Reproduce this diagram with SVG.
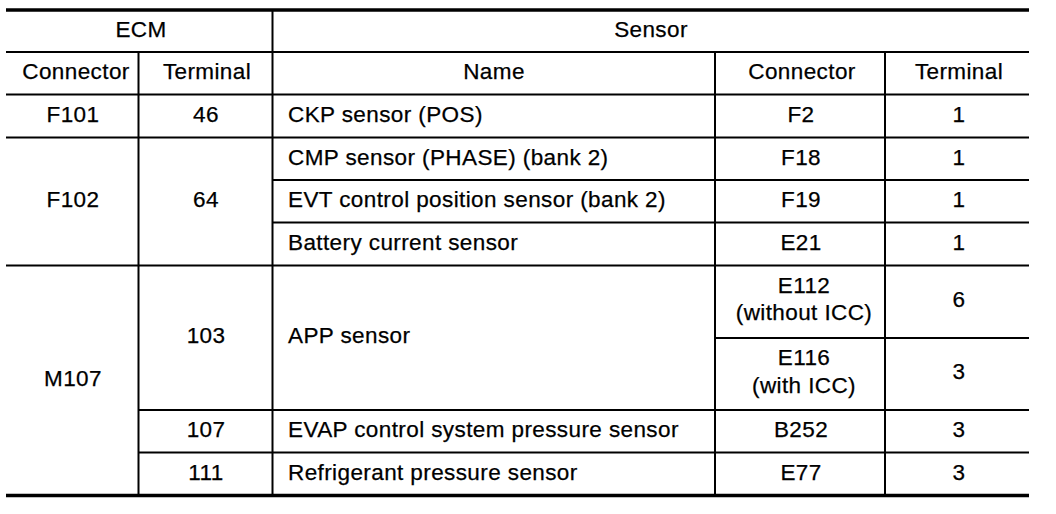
<svg xmlns="http://www.w3.org/2000/svg" width="1056" height="514" viewBox="0 0 1056 514">
<style>
text{font-family:"Liberation Sans",Arial,sans-serif;font-size:22.5px;letter-spacing:0.4px;fill:#000;stroke:#000;stroke-width:0.25}
.c{text-anchor:middle}
.l{stroke:#000;stroke-width:2;fill:none}
.t{stroke:#000;stroke-width:3.5;fill:none}
</style>
<rect width="1056" height="514" fill="#fff"/>
<g id="grid">
<line class="t" x1="6" y1="10" x2="1029" y2="10"/>
<line class="t" x1="6" y1="495.5" x2="1029" y2="495.5"/>
<line class="l" x1="6" y1="52" x2="1029" y2="52"/>
<line class="l" x1="6" y1="94.5" x2="1029" y2="94.5"/>
<line class="l" x1="6" y1="137.5" x2="1029" y2="137.5"/>
<line class="l" x1="272.5" y1="180" x2="1029" y2="180"/>
<line class="l" x1="272.5" y1="222.5" x2="1029" y2="222.5"/>
<line class="l" x1="6" y1="265.5" x2="1029" y2="265.5"/>
<line class="l" x1="715" y1="338" x2="1029" y2="338"/>
<line class="l" x1="138.5" y1="410" x2="1029" y2="410"/>
<line class="l" x1="138.5" y1="452.5" x2="1029" y2="452.5"/>
<line class="l" x1="138.5" y1="52" x2="138.5" y2="495"/>
<line class="l" x1="272.5" y1="10" x2="272.5" y2="495"/>
<line class="l" x1="715" y1="52" x2="715" y2="495"/>
<line class="l" x1="885" y1="52" x2="885" y2="495"/>
</g>
<g id="header">
<text class="c" x="141" y="37">ECM</text>
<text class="c" x="651" y="37">Sensor</text>
<text class="c" x="76" y="79">Connector</text>
<text class="c" x="207" y="79">Terminal</text>
<text class="c" x="494" y="79">Name</text>
<text class="c" x="802" y="79">Connector</text>
<text class="c" x="959" y="79">Terminal</text>
</g>
<g id="row-f101">
<text class="c" x="73" y="122">F101</text>
<text class="c" x="206" y="122">46</text>
<text x="288" y="122">CKP sensor (POS)</text>
<text class="c" x="801" y="122">F2</text>
<text class="c" x="959" y="122">1</text>
</g>
<g id="row-f102">
<text class="c" x="73" y="207">F102</text>
<text class="c" x="206" y="207">64</text>
<text x="288" y="164.5">CMP sensor (PHASE) (bank 2)</text>
<text class="c" x="801" y="164.5">F18</text>
<text class="c" x="959" y="164.5">1</text>
<text x="288" y="207">EVT control position sensor (bank 2)</text>
<text class="c" x="801" y="207">F19</text>
<text class="c" x="959" y="207">1</text>
<text x="288" y="250">Battery current sensor</text>
<text class="c" x="801" y="250">E21</text>
<text class="c" x="959" y="250">1</text>
</g>
<g id="row-m107">
<text class="c" x="73" y="386">M107</text>
<text class="c" x="206" y="343">103</text>
<text x="288" y="343">APP sensor</text>
<text class="c" x="804" y="293">E112</text>
<text class="c" x="804" y="320">(without ICC)</text>
<text class="c" x="959" y="307">6</text>
<text class="c" x="804" y="365">E116</text>
<text class="c" x="804" y="393">(with ICC)</text>
<text class="c" x="959" y="379">3</text>
<text class="c" x="206" y="437">107</text>
<text x="288" y="437">EVAP control system pressure sensor</text>
<text class="c" x="801" y="437">B252</text>
<text class="c" x="959" y="437">3</text>
<text class="c" x="206" y="480">111</text>
<text x="288" y="480">Refrigerant pressure sensor</text>
<text class="c" x="801" y="480">E77</text>
<text class="c" x="959" y="480">3</text>
</g>
</svg>
